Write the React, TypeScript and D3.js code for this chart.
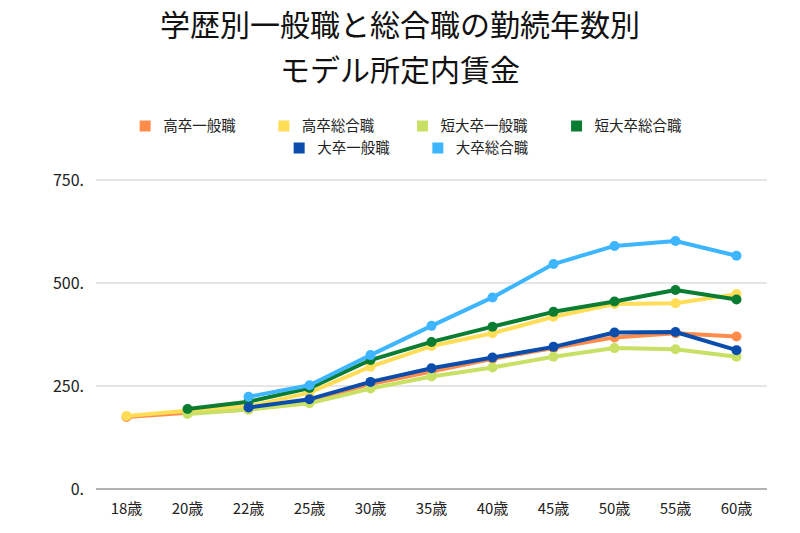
import React from "react";
import * as d3 from "d3";

const categories = ["18歳", "20歳", "22歳", "25歳", "30歳", "35歳", "40歳", "45歳", "50歳", "55歳", "60歳"];
const seriesNames = ["高卒一般職", "高卒総合職", "短大卒一般職", "短大卒総合職", "大卒一般職", "大卒総合職"];
const seriesColors = ["#FF8C4A", "#FFDD57", "#C8E165", "#0A7D33", "#0B4DAC", "#3DB6FF"];
const koukotsuIppan: (number | null)[] = [175, 185, 193, 212, 255, 285, 316, 342, 368, 378, 370];
const koukotsuSougou: (number | null)[] = [177, 190, 200, 234, 297, 347, 378, 418, 449, 451, 473];
const tandaiIppan: (number | null)[] = [null, 182, 193, 208, 244, 273, 295, 321, 342, 339, 321];
const tandaiSougou: (number | null)[] = [null, 194, 212, 245, 313, 357, 394, 430, 455, 483, 460];
const daisotsuIppan: (number | null)[] = [null, null, 198, 218, 260, 293, 319, 345, 380, 381, 337];
const daisotsuSougou: (number | null)[] = [null, null, 224, 252, 325, 396, 465, 546, 590, 602, 566];
const yTicks = [0, 250, 500, 750];
const yTickLabels = ["0.", "250.", "500.", "750."];

const allSeries = [koukotsuIppan, koukotsuSougou, tandaiIppan, tandaiSougou, daisotsuIppan, daisotsuSougou];

const FONT = "'Noto Sans CJK JP', 'Noto Sans', sans-serif";

export default function App() {
  const width = 800;
  const height = 533;
  const left = 96;
  const right = 767;
  const x = d3.scaleBand<string>().domain(categories).range([left, right]);
  const y = d3.scaleLinear().domain([0, 750]).range([489, 180]);
  const cx = (c: string) => (x(c) as number) + x.bandwidth() / 2;

  const line = d3
    .line<number | null>()
    .defined((d) => d !== null)
    .x((_, i) => cx(categories[i]))
    .y((d) => y(d as number));

  // legend layout
  const charPitch = 15.3;
  const legendFont = 14.5;
  const sq = 11;
  const gapSqText = 12.5;
  const gapItems = 38.7;
  const rows = [[0, 1, 2, 3], [4, 5]];
  const rowY = [126, 148];
  const legendItems: { i: number; x: number; y: number }[] = [];
  rows.forEach((row, ri) => {
    const widths = row.map((i) => sq + gapSqText + seriesNames[i].length * charPitch);
    const total = widths.reduce((a, b) => a + b, 0) + gapItems * (row.length - 1);
    let start = 413 - total / 2;
    row.forEach((i, k) => {
      legendItems.push({ i, x: start, y: rowY[ri] });
      start += widths[k] + gapItems;
    });
  });

  return (
    <svg width={width} height={height} style={{ position: "absolute", left: 0, top: 0, background: "#fff" }}>
      <rect width={width} height={height} fill="#fff" />
      <text x={400} y={36} textAnchor="middle" fontFamily={FONT} fontSize={30} fill="#111">
        学歴別一般職と総合職の勤続年数別
      </text>
      <text x={400} y={80.5} textAnchor="middle" fontFamily={FONT} fontSize={30} fill="#111">
        モデル所定内賃金
      </text>

      {legendItems.map(({ i, x: lx, y: ly }) => (
        <g key={i}>
          <rect x={lx} y={ly - sq / 2} width={sq} height={sq} fill={seriesColors[i]} />
          <text x={lx + sq + gapSqText} y={ly + 5} fontFamily={FONT} fontSize={legendFont} fill="#222">
            {seriesNames[i]}
          </text>
        </g>
      ))}

      {yTicks.map((t, k) => (
        <g key={t}>
          <line x1={left} x2={right} y1={y(t)} y2={y(t)} stroke={t === 0 ? "#666" : "#ccc"} strokeWidth={1} />
          <text x={84} y={y(t) + 6} textAnchor="end" fontFamily={FONT} fontSize={16} fill="#222">
            {yTickLabels[k]}
          </text>
        </g>
      ))}

      {categories.map((c) => (
        <text key={c} x={cx(c)} y={514} textAnchor="middle" fontFamily={FONT} fontSize={15} fill="#222">
          {c}
        </text>
      ))}

      {allSeries.map((s, si) => (
        <g key={si}>
          <path d={line(s) || ""} fill="none" stroke={seriesColors[si]} strokeWidth={4} strokeLinejoin="round" />
          {s.map((v, i) =>
            v === null ? null : <circle key={i} cx={cx(categories[i])} cy={y(v)} r={5} fill={seriesColors[si]} />
          )}
        </g>
      ))}
    </svg>
  );
}
